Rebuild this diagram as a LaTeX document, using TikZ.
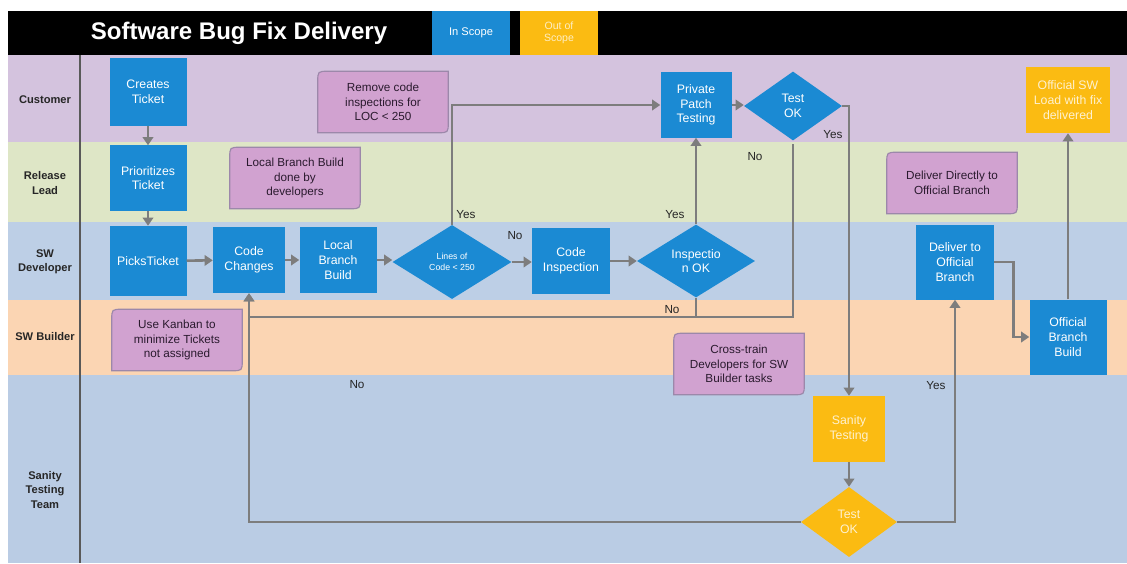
\documentclass[tikz,border=0pt]{standalone}
\usepackage{fontspec}
\setmainfont{Liberation Sans}
\usetikzlibrary{shapes.geometric,arrows.meta,calc}

\definecolor{laneCust}{HTML}{D4C3DE}
\definecolor{laneRel}{HTML}{DEE6C6}
\definecolor{laneDev}{HTML}{BDCFE6}
\definecolor{laneBld}{HTML}{FBD5B3}
\definecolor{laneSan}{HTML}{BACCE4}
\definecolor{procblue}{HTML}{1B8AD3}
\definecolor{procyel}{HTML}{FBBB12}
\definecolor{notepink}{HTML}{D1A2D0}
\definecolor{noteedge}{HTML}{9C88AA}
\definecolor{notetext}{HTML}{2A1A2E}
\definecolor{flowgray}{HTML}{7D7D7D}

% rounded top-left and bottom-right corners behind a note node
\newcommand{\drawnote}[1]{%
  \path[fill=notepink, draw=noteedge, line width=1pt]
    (#1.south west) -- ([yshift=-9pt]#1.north west)
    .. controls (#1.north west) .. ([xshift=9pt]#1.north west)
    -- (#1.north east) -- ([yshift=9pt]#1.south east)
    .. controls (#1.south east) .. ([xshift=-9pt]#1.south east)
    -- cycle;}

\begin{document}
\begin{tikzpicture}[x=0.03cm, y=-0.03cm,
  proc/.style={fill=procblue, text=white, align=center, inner sep=1pt,
    font=\fontsize{10.5}{12.5}\selectfont},
  procY/.style={proc, fill=procyel, text=white!80!procyel},
  dec/.style={diamond, fill=procblue, text=white, align=center, inner sep=0pt,
    font=\fontsize{10.5}{12.5}\selectfont},
  decY/.style={dec, fill=procyel, text=white!80!procyel},
  notebox/.style={align=center, text=notetext, inner sep=1pt,
    minimum width=3.9cm, minimum height=1.83cm,
    font=\fontsize{10}{12.5}\selectfont},
  lanelabel/.style={align=center, text=black!85,
    font=\bfseries\fontsize{9.5}{12}\selectfont},
  yn/.style={text=black!85, font=\fontsize{10}{12}\selectfont},
  flow/.style={draw=flowgray, line width=2.2pt,
    -{Triangle[width=9pt,length=7pt]}},
  plain/.style={draw=flowgray, line width=2.2pt}]

\useasboundingbox (0,0) rectangle (1127,563);
\fill[white] (0,0) rectangle (1127,563);

% swimlanes
\fill[laneCust] (8,55)  rectangle (1127,142);
\fill[laneRel]  (8,142) rectangle (1127,222);
\fill[laneDev]  (8,222) rectangle (1127,300);
\fill[laneBld]  (8,300) rectangle (1127,375);
\fill[laneSan]  (8,375) rectangle (1127,563);
\draw[black!65, line width=1pt] (80,55) -- (80,563);

% header bar and legend
\fill[black] (8,11) rectangle (1127,55);
\node[text=white, font=\bfseries\fontsize{20.5}{23}\selectfont] (title) at (239,33) {Software Bug Fix Delivery};
\node[fill=procblue, text=white, minimum width=2.34cm, minimum height=1.32cm,
  font=\fontsize{9.5}{11}\selectfont] (inscope) at (471,33) {In Scope};
\node[fill=procyel, text=white!75!procyel, align=center, minimum width=2.34cm, minimum height=1.32cm,
  font=\fontsize{9}{10}\selectfont] (outscope) at (559,33) {Out of\\Scope};

% lane labels
\node[lanelabel] (lcust) at (45,100) {Customer};
\node[lanelabel] (lrel)  at (45,183) {Release\\Lead};
\node[lanelabel] (ldev)  at (45,262) {SW\\Developer};
\node[lanelabel] (lbld)  at (45,337) {SW Builder};
\node[lanelabel] (lsan)  at (45,490) {Sanity\\Testing\\Team};

% notes: placeholders fix the size, the shape goes behind, then the text
\node[notebox] (n1) at (383,102) {};
\node[notebox] (n2) at (295,178) {};
\node[notebox] (n3) at (177,340) {};
\node[notebox] (n4) at (739,364) {};
\node[notebox] (n5) at (952,183) {};
\drawnote{n1}\drawnote{n2}\drawnote{n3}\drawnote{n4}\drawnote{n5}
\node[notebox] at (n1) {Remove code\\inspections for\\LOC < 250};
\node[notebox] at (n2) {Local Branch Build\\done by\\developers};
\node[notebox] at (n3) {Use Kanban to\\minimize Tickets\\not assigned};
\node[notebox] at (n4) {Cross-train\\Developers for SW\\Builder tasks};
\node[notebox] at (n5) {Deliver Directly to\\Official Branch};

% process steps
\node[proc, minimum width=2.31cm, minimum height=2.01cm] (ct)  at (148,92)  {Creates\\Ticket};
\node[proc, minimum width=2.31cm, minimum height=1.95cm] (pt)  at (148,178) {Prioritizes\\Ticket};
\node[proc, minimum width=2.31cm, minimum height=2.1cm]  (pk)  at (148,261) {PicksTicket};
\node[proc, minimum width=2.16cm, minimum height=1.98cm] (cc)  at (249,260) {Code\\Changes};
\node[proc, minimum width=2.31cm, minimum height=1.98cm] (lbb) at (338,260) {Local\\Branch\\Build};
\node[dec, minimum width=3.57cm, minimum height=2.22cm,
  font=\fontsize{7.5}{9}\selectfont] (loc) at (452,262) {Lines of\\Code < 250};
\node[proc, minimum width=2.34cm, minimum height=1.98cm] (ci)  at (571,261) {Code\\Inspection};
\node[dec, minimum width=3.54cm, minimum height=2.1cm]   (iok) at (696,261) {Inspectio\\n OK};
\node[proc, minimum width=2.13cm, minimum height=1.95cm] (ppt) at (696,105) {Private\\Patch\\Testing};
\node[dec, minimum width=2.94cm, minimum height=2.07cm]  (tok1) at (793,106) {Test\\OK};
\node[procY, minimum width=2.16cm, minimum height=1.98cm] (san) at (849,429) {Sanity\\Testing};
\node[decY, minimum width=2.88cm, minimum height=2.1cm]  (tok2) at (849,522) {Test\\OK};
\node[proc, minimum width=2.34cm, minimum height=2.25cm] (dob) at (955,262) {Deliver to\\Official\\Branch};
\node[proc, minimum width=2.31cm, minimum height=2.25cm] (obb) at (1068,337) {Official\\Branch\\Build};
\node[procY, minimum width=2.52cm, minimum height=1.98cm] (osw) at (1068,100) {Official SW\\Load with fix\\delivered};

% connectors
\coordinate (nobus) at (0,317);
\draw[flow] (ct) -- (pt);
\draw[flow] (pt) -- (pk);
\draw[flow] (pk) -- (cc);
\draw[flow] (cc) -- (lbb);
\draw[flow] (lbb.east) -- (lbb.east -| loc.west);
\draw[flow] (loc.east) -- (loc.east -| ci.west);
\draw[flow] (ci.east) -- (ci.east -| iok.west);
\draw[flow] (iok.north) -- (ppt.south);
\draw[flow] (loc.north) |- (ppt.west);
\draw[flow] (ppt.east) -- (ppt.east -| tok1.west);
\draw[flow] (tok1.east) -| (san.north);
\draw[flow] (san.south) -- (tok2.north);
\draw[flow] (tok2.east) -| (dob.south);
\draw[flow] (dob.east) -- ++(19,0) |- (obb.west);
\draw[flow] (obb.north) -- (osw.south);
\draw[flow, shorten <=3pt] (tok1.south) -- (tok1.south |- nobus) -| (cc.south);
\draw[plain] (iok.south) -- (iok.south |- nobus);
\draw[flow] (tok2.west) -| (cc.south);

% branch labels
\node[yn] (y1) at (466,215) {Yes};
\node[yn] (n1l) at (515,236) {No};
\node[yn] (y2) at (675,215) {Yes};
\node[yn] (n2l) at (755,157) {No};
\node[yn] (y3) at (833,135) {Yes};
\node[yn] (n3l) at (672,310) {No};
\node[yn] (n4l) at (357,385) {No};
\node[yn] (y4) at (936,386) {Yes};
\end{tikzpicture}
\end{document}
